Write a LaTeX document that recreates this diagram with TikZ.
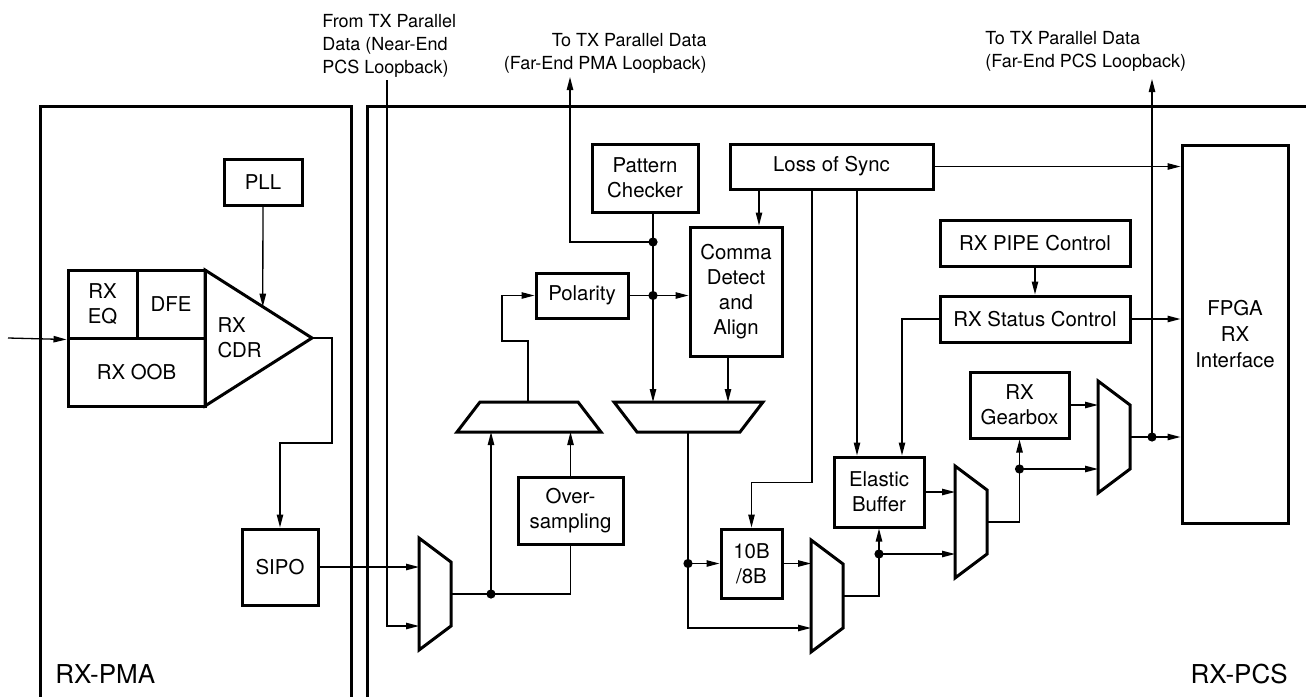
\documentclass[tikz,border=0pt]{standalone}
\usepackage{fontspec}
\setmainfont{TeX Gyre Heros}
\usetikzlibrary{arrows.meta,calc}
\tikzset{>={Triangle[length=6.5pt,width=3.2pt]},
  blk/.style={draw,line width=1.5pt,align=center,inner sep=0pt,
    font=\fontsize{10.2}{12.6}\selectfont},
  frame/.style={line width=1.5pt},
  muxln/.style={line width=1.5pt,line join=miter},
  wire/.style={line width=0.65pt},
  flow/.style={->,wire},
  dot/.style={circle,fill,inner sep=0pt,minimum size=4.6pt},
  note/.style={font=\fontsize{9}{11.4}\selectfont,inner sep=0pt},
  tag/.style={font=\fontsize{13}{15}\selectfont,inner sep=0pt},
  vmux/.pic={\draw[muxln] (0,0) -- (32,24) -- (32,88) -- (0,112) -- cycle;
    \coordinate (-a) at (0,26);
    \coordinate (-b) at (0,88);
    \coordinate (-o) at (32,56);}}

\begin{document}
\begin{tikzpicture}[x=0.5pt,y=-0.5pt]
  \clip (0,0) rectangle (1306,696);
  % the two sublayers, open towards the page edge
  \draw[frame] (40,700) |- (351,106) -- (351,700);
  \draw[frame] (367,700) |- (1310,106);
  \node[tag,anchor=base west] (pmatag) at (55,683) {RX-PMA};
  \node[tag,anchor=base east] (pcstag) at (1288,683) {RX-PCS};

  % loopback paths leaving / entering at the top
  \node[note,anchor=north west,align=left] (nearlbl) at (322,14)
    {From TX Parallel\\Data (Near-End\\PCS Loopback)};
  \node[note,anchor=north east,align=right] (pmalbl) at (707,33)
    {To TX Parallel Data\\(Far-End PMA Loopback)};
  \node[note,anchor=north west,align=left] (pcslbl) at (985,31)
    {To TX Parallel Data\\(Far-End PCS Loopback)};
  \coordinate (nearin) at (387,80);
  \coordinate (pmaout) at (570,77);
  \coordinate (pcsout) at (1152,79);

  % RX-PMA
  \node[blk,minimum width=39pt,minimum height=23pt] (pll) at (263,182) {PLL};
  \node[blk,minimum width=34.5pt,minimum height=34pt] (eq) at (102.5,304) {RX\\EQ};
  \node[blk,minimum width=34pt,minimum height=34pt] (dfe) at (171,304) {DFE};
  \node[blk,minimum width=68.5pt,minimum height=34pt] (oob) at (136.5,372) {RX OOB};
  \coordinate (cdrtop) at (205,270);
  \coordinate (cdrtip) at (312,338);
  \draw[muxln] (cdrtop) -- (cdrtip) -- (205,406) -- cycle;
  \node[blk,draw=none,align=left,anchor=west] (cdr) at (216,338) {RX\\CDR};
  \node[blk,minimum width=38pt,minimum height=38pt] (sipo) at (280,567) {SIPO};
  \coordinate (rxin) at (8,338);

  \draw[flow] (rxin) -- (eq.south west);
  \draw[flow] (pll) -- ($(cdrtop)!0.54!(cdrtip)$);
  \draw[flow] (cdrtip) -| ++(20,105) -| (sipo);

  % RX-PCS blocks
  \node[blk,minimum width=53pt,minimum height=34pt] (pchk) at (645,178) {Pattern\\Checker};
  \node[blk,minimum width=101.5pt,minimum height=22.5pt] (los) at (831.5,166.5) {Loss of Sync};
  \node[blk,minimum width=46pt,minimum height=64.5pt] (cda) at (736,291.5) {Comma\\Detect\\and\\Align};
  \node[blk,minimum width=46pt,minimum height=22.5pt] (pol) at (582,295.5) {Polarity};
  \node[blk,minimum width=52.5pt,minimum height=33.5pt] (ovs) at (570.5,510.5) {Over-\\sampling};
  \node[blk,minimum width=30.5pt,minimum height=34.5pt] (dec) at (751.5,563.5) {10B\\/8B};
  \node[blk,minimum width=45pt,minimum height=35pt] (ebuf) at (879,492) {Elastic\\Buffer};
  \node[blk,minimum width=95pt,minimum height=23pt] (pipe) at (1035,243) {RX PIPE Control};
  \node[blk,minimum width=95pt,minimum height=23pt] (stat) at (1035,319) {RX Status Control};
  \node[blk,minimum width=49.5pt,minimum height=33pt] (gbox) at (1019.5,405) {RX\\Gearbox};
  \node[blk,minimum width=53pt,minimum height=189pt,font=\fontsize{10.2}{13}\selectfont]
    (fpga) at (1235,334) {FPGA\\RX\\Interface};

  % selectors
  \pic (m1) at (419,538) {vmux};
  \pic (m3) at (811,540) {vmux};
  \pic (m4) at (955,466) {vmux};
  \pic (m5) at (1098,381) {vmux};
  \draw[muxln] (457,432) -- (480,402) -- (578,402) -- (601,432) -- cycle;
  \coordinate (hin1) at (491,432);
  \coordinate (hin2) at (571,432);
  \coordinate (hout) at (528,402);
  \draw[muxln] (614,402) -- (763,402) -- (740,432) -- (637,432) -- cycle;
  \coordinate (sin1) at (653,402);
  \coordinate (sin2) at (728,402);
  \coordinate (sout) at (688,432);
  \coordinate (pmatap) at (653,242);

  % datapath
  \draw[flow] (sipo) -- (sipo -| m1-a);
  \draw[flow] (nearin) |- (m1-b);
  \draw[wire] (m1-o) -| (ovs);
  \draw[flow] (m1-o -| hin1) -- (hin1);
  \node[dot] (j1) at (m1-o -| hin1) {};
  \draw[flow] (ovs) -- (ovs |- hin2);
  \draw[flow] (hout) -- ++(0,-61) -- ++(-26,0) |- (pol);
  \draw[flow] (pol) -- (pol -| cda.west);
  \node[dot] (j2) at (pol -| sin1) {};
  \draw[flow] (pchk.south -| sin1) -- (sin1);
  \draw[flow] (pmatap) -| (pmaout);
  \node[dot] (j3) at (pmatap) {};
  \draw[flow] (cda.south -| sin2) -- (sin2);

  \draw[flow] ([xshift=-36.25pt]los.south) -- ([xshift=-36.25pt]los.south |- cda.north);
  \draw[flow] ([xshift=-9.75pt]los.south) |- ([yshift=22.5pt]dec.north) -- (dec.north);
  \draw[flow] ([xshift=-11pt]ebuf.north |- los.south) -- ([xshift=-11pt]ebuf.north);
  \draw[flow] (los) -- (los -| fpga.west);
  \draw[flow] (pipe) -- (stat);
  \draw[flow] (stat) -- (stat -| fpga.west);
  \draw[flow] (stat) -| ([xshift=11.5pt]ebuf.north);

  \draw[flow] (sout) |- (m3-b);
  \draw[flow] (sout |- dec) -- (dec);
  \node[dot] (j4) at (sout |- dec) {};
  \draw[flow] (dec) -- (dec -| m3-a);
  \draw[wire] (m3-o) -| (ebuf.south |- m4-b);
  \draw[flow] (ebuf.south |- m4-b) -- (ebuf.south);
  \draw[flow] (ebuf.south |- m4-b) -- (m4-b);
  \node[dot] (j5) at (ebuf.south |- m4-b) {};
  \draw[flow] (ebuf) -- (ebuf -| m4-a);
  \draw[wire] (m4-o) -| (gbox.south |- m5-b);
  \draw[flow] (gbox.south |- m5-b) -- (gbox.south);
  \draw[flow] (gbox.south |- m5-b) -- (m5-b);
  \node[dot] (j6) at (gbox.south |- m5-b) {};
  \draw[flow] (gbox) -- (gbox -| m5-a);
  \draw[flow] (m5-o) -- (m5-o -| fpga.west);
  \draw[flow] (m5-o -| pcsout) -- (pcsout);
  \node[dot] (j7) at (m5-o -| pcsout) {};
\end{tikzpicture}
\end{document}
